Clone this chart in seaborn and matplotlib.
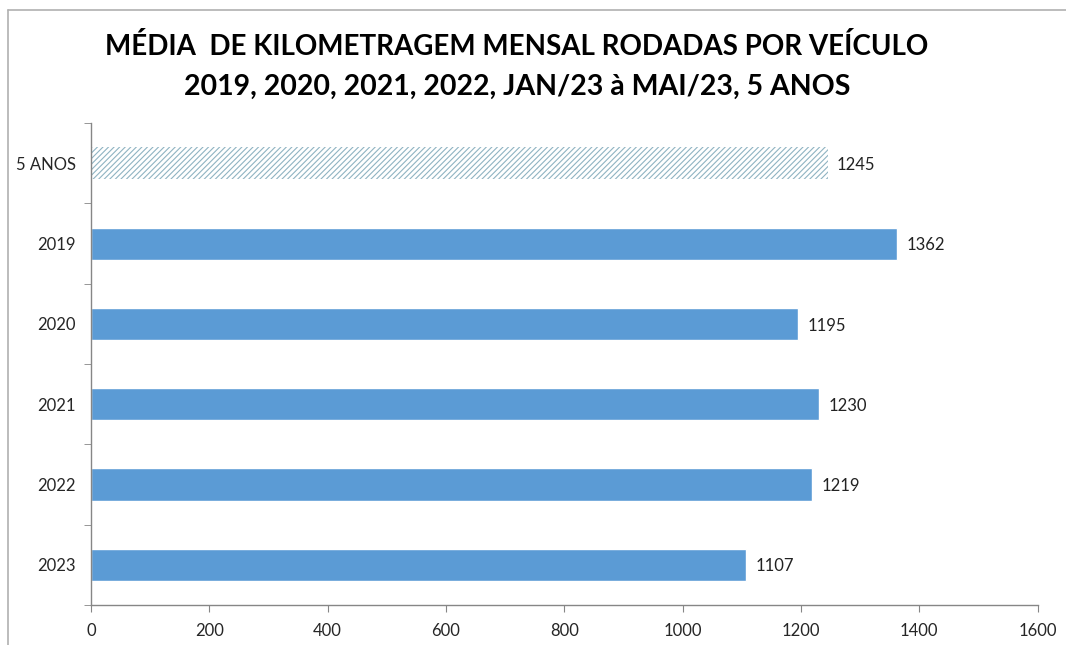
import matplotlib
matplotlib.use("Agg")
import pandas as pd
import matplotlib.pyplot as plt
import seaborn as sns
from matplotlib.lines import Line2D

# dados do gráfico
categorias = ["5 ANOS", "2019", "2020", "2021", "2022", "2023"]
km_media = [1245, 1362, 1195, 1230, 1219, 1107]

df = pd.DataFrame({"Periodo": categorias, "Km": km_media})

sns.set_style("white")
plt.rcParams["font.family"] = ["Lato", "DejaVu Sans"]
plt.rcParams["hatch.linewidth"] = 0.8

fig = plt.figure(figsize=(10.66, 6.45), dpi=100)
ax = fig.add_axes([0.0854, 0.062, 0.888, 0.747])

sns.barplot(data=df, x="Km", y="Periodo", order=categorias, color="#5b9bd5",
            width=0.4, saturation=1, ax=ax)

# primeira barra (média 5 anos) com hachura
barra5 = ax.patches[0]
barra5.set_facecolor("white")
barra5.set_edgecolor("#8fb3c2")
barra5.set_hatch("//////")
barra5.set_linewidth(0)

for i, v in enumerate(km_media):
    ax.text(v + 16, i + 0.02, str(v), va="center", ha="left", fontsize=12, color="#222222")

ax.set_xlim(0, 1600)
ax.set_ylim(5.5, -0.5)
ax.set_xticks(range(0, 1601, 200))
ax.set_xlabel("")
ax.set_ylabel("")
ax.tick_params(axis="x", labelsize=12, length=5, color="#868686", direction="out",
               bottom=True, pad=8)
ax.tick_params(axis="y", which="major", labelsize=12, length=0, pad=11)
ax.set_yticks([i + 0.5 for i in range(-1, 6)], minor=True)
ax.tick_params(axis="y", which="minor", length=5, color="#868686", direction="out", left=True)

for s in ["top", "right"]:
    ax.spines[s].set_visible(False)
for s in ["left", "bottom"]:
    ax.spines[s].set_color("#868686")
    ax.spines[s].set_linewidth(1)

fig.text(0.485, 0.928, "MÉDIA  DE KILOMETRAGEM MENSAL RODADAS POR VEÍCULO",
         ha="center", va="center", fontsize=20, fontweight="bold", color="black")
fig.text(0.485, 0.866, "2019, 2020, 2021, 2022, JAN/23 à MAI/23, 5 ANOS",
         ha="center", va="center", fontsize=20.5, fontweight="bold", color="black")

# moldura da área do gráfico
fig.add_artist(Line2D([8 / 1066, 8 / 1066], [0, 1 - 10 / 645], transform=fig.transFigure,
                      color="#b0b0b0", linewidth=1.2))
fig.add_artist(Line2D([8 / 1066, 1], [1 - 10 / 645, 1 - 10 / 645], transform=fig.transFigure,
                      color="#b0b0b0", linewidth=1.2))

fig.savefig("out.png", dpi=100)
